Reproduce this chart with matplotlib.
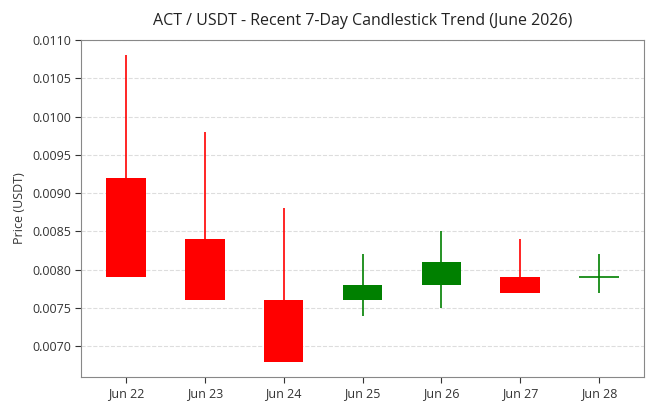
import matplotlib
matplotlib.use("Agg")
import matplotlib.pyplot as plt
import numpy as np

plt.rcParams['font.family'] = ['Open Sans', 'DejaVu Sans']

dates = ["Jun 22", "Jun 23", "Jun 24", "Jun 25", "Jun 26", "Jun 27", "Jun 28"]
opens = [0.0092, 0.0084, 0.0076, 0.0076, 0.0078, 0.0079, 0.0079]
closes = [0.0079, 0.0076, 0.0068, 0.0078, 0.0081, 0.0077, 0.0079]
highs = [0.0108, 0.0098, 0.0088, 0.0082, 0.0085, 0.0084, 0.0082]
lows = [0.0079, 0.0076, 0.0068, 0.0074, 0.0075, 0.0077, 0.0077]

fig = plt.figure(figsize=(6.55, 4.08), dpi=100)
ax = fig.add_axes([0.124, 0.076, 0.859, 0.826])

x = np.arange(len(dates))
width = 0.5
for i in range(len(dates)):
    up = closes[i] >= opens[i]
    color = '#008000' if up else '#ff0000'
    ax.vlines(x[i], lows[i], highs[i], color=color, linewidth=1.2, zorder=2)
    lo = min(opens[i], closes[i])
    h = abs(closes[i] - opens[i])
    if h > 0:
        ax.bar(x[i], h, width=width, bottom=lo, color=color, zorder=3)
    else:
        ax.hlines(opens[i], x[i] - width / 2, x[i] + width / 2, color=color, linewidth=1.2, zorder=3)

ax.set_xlim(-0.57, 6.57)
ax.set_ylim(0.0066, 0.0110)
ax.set_yticks(np.arange(0.0070, 0.01101, 0.0005))
ax.yaxis.set_major_formatter(matplotlib.ticker.FormatStrFormatter('%.4f'))
ax.set_xticks(x)
ax.set_xticklabels(dates)
ax.tick_params(labelsize=9, colors='#333333', length=4)
ax.grid(axis='y', linestyle='--', color='#dddddd', linewidth=0.8, zorder=0)
ax.set_axisbelow(True)
for s in ax.spines.values():
    s.set_color('#888888')
ax.set_ylabel('Price (USDT)', fontsize=9, color='#333333')
ax.set_title('ACT / USDT - Recent 7-Day Candlestick Trend (June 2026)', fontsize=11.5, color='#222222', pad=11)

fig.savefig('out.png', dpi=100)
